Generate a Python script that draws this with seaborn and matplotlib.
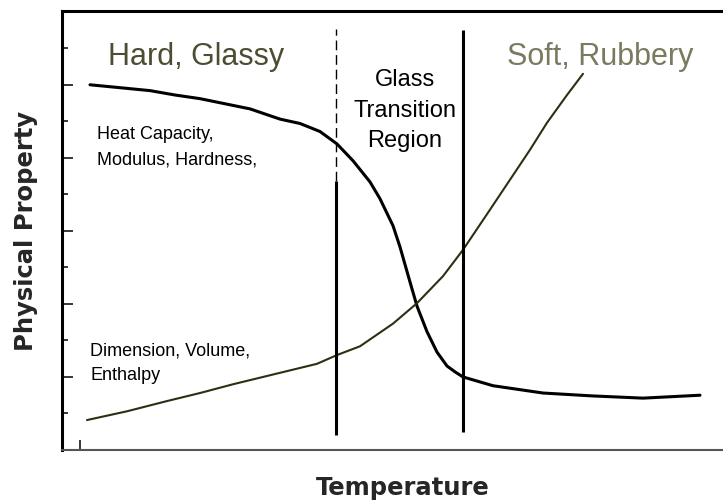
"""
Glass transition schematic: physical property vs temperature
"""

import numpy as np
import pandas as pd
import matplotlib
matplotlib.use("Agg")
import matplotlib.pyplot as plt
import seaborn as sns

# Temperature (arbitrary units) and property values
modulus_temp = [28, 58, 88, 113, 138, 163, 188, 218, 238, 258, 275, 291, 308, 318,
                331, 338, 348, 355, 365, 375, 385, 393, 401, 431, 481, 531, 581, 638]
modulus_value = [5.00, 4.96, 4.92, 4.86, 4.81, 4.74, 4.67, 4.53, 4.47, 4.36, 4.19,
                 3.96, 3.67, 3.44, 3.07, 2.78, 2.30, 1.97, 1.62, 1.34, 1.15, 1.07,
                 1.00, 0.88, 0.78, 0.74, 0.71, 0.75]

volume_temp = [25, 65, 105, 138, 171, 213, 255, 275, 298, 331, 355, 381, 401, 428,
               448, 468, 485, 505, 521]
volume_value = [0.41, 0.53, 0.67, 0.78, 0.90, 1.04, 1.18, 1.30, 1.42, 1.73, 2.01,
                2.38, 2.74, 3.29, 3.70, 4.11, 4.48, 4.86, 5.15]

# Region boundaries
onset_temp = 274
onset_dashed = [3.68, 5.77]
onset_solid = [0.21, 3.68]
end_temp = 401
end_range = [0.25, 5.75]

major_ticks = [1, 2, 3, 4, 5]
minor_ticks = [0.5, 1.5, 2.5, 3.5, 4.5, 5.5]
x_ticks = [18]

sns.set_theme(style="white")
plt.rcParams['font.family'] = ['Liberation Sans', 'DejaVu Sans']

fig = plt.figure(figsize=(7.23, 5.02), dpi=100)
ax = fig.add_axes([62 / 723, 51 / 502, 661 / 723, 439 / 502])

modulus_df = pd.DataFrame({"Temperature": modulus_temp, "Property": modulus_value})
volume_df = pd.DataFrame({"Temperature": volume_temp, "Property": volume_value})

sns.lineplot(data=modulus_df, x="Temperature", y="Property", ax=ax,
             color="black", linewidth=2.2, sort=False)
sns.lineplot(data=volume_df, x="Temperature", y="Property", ax=ax,
             color="#2e2e14", linewidth=1.5, sort=False)

# Transition region boundaries
ax.vlines(onset_temp, onset_dashed[0], onset_dashed[1], color="black",
          linewidth=1.0, linestyles=(0, (7, 3.5)))
ax.vlines(onset_temp, onset_solid[0], onset_solid[1], color="black", linewidth=2.2)
ax.vlines(end_temp, end_range[0], end_range[1], color="black", linewidth=2.2)

ax.set_xlim(0, 661)
ax.set_ylim(0, 6.01)

# Annotations
ax.text(46, 5.29, "Hard, Glassy", fontsize=22, color="#4d4d33", va="baseline")
ax.text(538, 5.29, "Soft, Rubbery", fontsize=22, color="#7a7a60",
        va="baseline", ha="center")
ax.text(343, 4.66, "Glass\nTransition\nRegion", fontsize=17, color="black",
        ha="center", va="center", linespacing=1.5)
ax.text(35, 4.16, "Heat Capacity,\nModulus, Hardness,", fontsize=13,
        color="black", va="center", linespacing=1.6)
ax.text(28, 1.20, "Dimension, Volume,\nEnthalpy", fontsize=13,
        color="black", va="center", linespacing=1.55)

# Axes styling
ax.set_xlabel("")
ax.set_ylabel("")
ax.set_yticks(major_ticks)
ax.set_yticks(minor_ticks, minor=True)
ax.set_xticks(x_ticks)
ax.tick_params(axis="y", which="major", direction="in", length=7.9, width=1.1,
               left=True, labelleft=False, color="black")
ax.tick_params(axis="y", which="minor", direction="in", length=4.3, width=1.1,
               left=True, color="black")
ax.tick_params(axis="x", direction="in", length=7.2, width=1.1,
               bottom=True, labelbottom=False, color="black")

ax.spines["left"].set_linewidth(2.2)
ax.spines["left"].set_color("black")
ax.spines["top"].set_linewidth(2.2)
ax.spines["top"].set_color("black")
ax.spines["top"].set_visible(True)
ax.spines["bottom"].set_linewidth(1.5)
ax.spines["bottom"].set_color("#555555")
ax.spines["right"].set_visible(False)

fig.text(403 / 723, 7 / 502, "Temperature", fontsize=17.5, fontweight="bold",
         family="DejaVu Sans", ha="center", va="baseline")
fig.text(26 / 723, 271 / 502, "Physical Property", fontsize=17.5,
         fontweight="bold", family="DejaVu Sans", rotation=90,
         ha="center", va="center")

fig.savefig("out.png", dpi=100)
plt.close(fig)
